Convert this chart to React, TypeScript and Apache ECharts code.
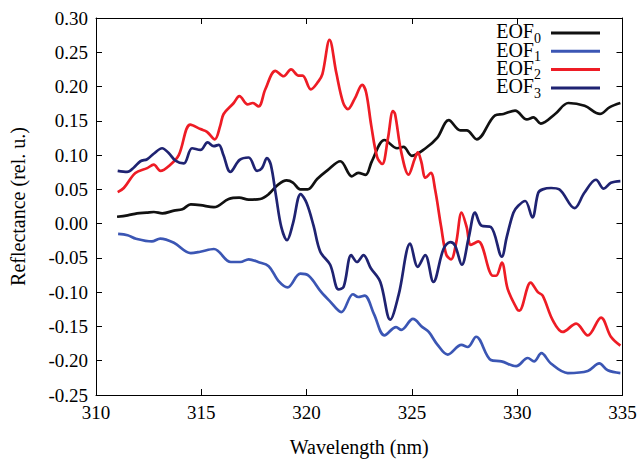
import React, { useEffect, useRef } from "react";
import * as echarts from "echarts";

const xTicks = [310, 315, 320, 325, 330, 335];
const seriesNames = ["EOF0", "EOF1", "EOF2", "EOF3"];
const seriesColors = ["#111111", "#3b56b4", "#ee1c25", "#1f2372"];

const eof0Wavelength = [311.0, 311.5, 311.95, 312.4, 312.75, 313.15, 313.7, 314.1, 314.5, 314.95, 315.6, 316.3, 316.8, 317.25, 317.8, 318.2, 318.65, 319.05, 319.35, 319.7, 320.05, 320.5, 321.0, 321.6, 322.15, 322.45, 322.8, 323.1, 323.7, 324.3, 324.6, 325.0, 325.65, 326.2, 326.75, 327.3, 327.6, 328.08, 328.95, 329.35, 329.9, 330.46, 330.77, 331.12, 331.8, 332.43, 333.2, 333.93, 334.4, 334.9];
const eof0Values = [0.010, 0.012, 0.015, 0.016, 0.017, 0.015, 0.019, 0.021, 0.028, 0.027, 0.024, 0.036, 0.038, 0.035, 0.036, 0.043, 0.057, 0.063, 0.060, 0.050, 0.050, 0.065, 0.078, 0.091, 0.069, 0.074, 0.071, 0.091, 0.122, 0.110, 0.112, 0.099, 0.110, 0.125, 0.151, 0.136, 0.136, 0.123, 0.158, 0.160, 0.165, 0.152, 0.155, 0.146, 0.160, 0.176, 0.172, 0.160, 0.170, 0.176];

const eof1Wavelength = [311.05, 311.5, 311.9, 312.65, 313.05, 313.7, 314.5, 314.95, 315.6, 316.4, 316.85, 317.25, 317.7, 318.2, 318.65, 319.1, 319.7, 320.1, 320.7, 321.1, 321.65, 322.2, 322.45, 322.75, 323.2, 323.7, 324.25, 324.5, 325.05, 325.5, 325.8, 326.2, 326.7, 327.35, 327.65, 328.05, 328.75, 329.25, 329.95, 330.5, 330.8, 331.15, 331.6, 332.4, 333.35, 333.9, 334.3, 334.9];
const eof1Values = [-0.015, -0.017, -0.022, -0.026, -0.022, -0.028, -0.043, -0.041, -0.037, -0.056, -0.056, -0.052, -0.056, -0.062, -0.083, -0.093, -0.073, -0.076, -0.100, -0.113, -0.129, -0.103, -0.107, -0.105, -0.132, -0.163, -0.151, -0.155, -0.139, -0.151, -0.158, -0.176, -0.191, -0.177, -0.180, -0.165, -0.199, -0.201, -0.208, -0.196, -0.201, -0.189, -0.204, -0.218, -0.215, -0.204, -0.214, -0.218];

const eof2Wavelength = [311.03, 311.32, 311.87, 312.43, 312.74, 313.06, 313.53, 313.93, 314.48, 314.96, 315.27, 315.64, 315.9, 316.06, 316.54, 316.81, 317.2, 317.44, 317.72, 318.04, 318.52, 318.91, 319.26, 319.62, 319.81, 320.2, 320.57, 320.75, 321.09, 321.41, 321.73, 321.96, 322.28, 322.64, 322.83, 323.07, 323.35, 323.59, 323.86, 324.1, 324.2, 324.49, 324.84, 325.14, 325.28, 325.44, 325.65, 325.9, 326.1, 326.39, 326.63, 326.86, 327.1, 327.36, 327.6, 327.8, 328.15, 328.85, 329.0, 329.27, 329.55, 330.0, 330.1, 330.64, 330.98, 331.21, 331.69, 332.16, 332.8, 333.35, 333.98, 334.45, 334.9];
const eof2Values = [0.046, 0.052, 0.074, 0.081, 0.086, 0.077, 0.086, 0.100, 0.1445, 0.138, 0.134, 0.123, 0.143, 0.160, 0.176, 0.186, 0.174, 0.176, 0.171, 0.196, 0.223, 0.215, 0.225, 0.216, 0.216, 0.196, 0.208, 0.218, 0.268, 0.220, 0.177, 0.167, 0.182, 0.2025, 0.191, 0.143, 0.097, 0.087, 0.124, 0.164, 0.160, 0.105, 0.0715, 0.095, 0.104, 0.091, 0.067, 0.074, 0.050, -0.005, -0.045, -0.052, -0.028, 0.016, -0.005, -0.031, -0.026, -0.076, -0.076, -0.057, -0.0955, -0.125, -0.127, -0.086, -0.100, -0.105, -0.141, -0.158, -0.146, -0.163, -0.137, -0.165, -0.178];

const eof3Wavelength = [311.03, 311.48, 311.8, 312.11, 312.43, 312.74, 313.14, 313.45, 313.77, 314.17, 314.56, 314.96, 315.3, 315.59, 315.83, 316.05, 316.38, 316.82, 317.25, 317.65, 317.88, 318.12, 318.3, 318.55, 318.8, 319.07, 319.35, 319.72, 320.0, 320.33, 320.65, 321.12, 321.52, 321.76, 322.12, 322.39, 322.7, 323.05, 323.5, 323.97, 324.37, 324.92, 325.28, 325.63, 326.02, 326.5, 326.82, 327.05, 327.37, 327.7, 328.0, 328.3, 328.75, 329.27, 329.5, 329.82, 330.05, 330.38, 330.72, 331.0, 331.21, 331.61, 332.0, 332.72, 333.19, 333.74, 334.11, 334.45, 334.9];
const eof3Values = [0.077, 0.0755, 0.082, 0.091, 0.094, 0.102, 0.110, 0.103, 0.092, 0.088, 0.110, 0.1075, 0.1185, 0.113, 0.115, 0.100, 0.0755, 0.093, 0.0965, 0.077, 0.081, 0.0955, 0.086, 0.040, -0.005, -0.024, 0.000, 0.043, 0.030, -0.003, -0.041, -0.060, -0.096, -0.092, -0.046, -0.056, -0.046, -0.065, -0.085, -0.140, -0.104, -0.029, -0.063, -0.046, -0.085, -0.037, -0.027, -0.032, -0.060, -0.020, 0.016, -0.003, -0.005, -0.048, -0.020, 0.016, 0.026, 0.033, 0.009, 0.045, 0.050, 0.052, 0.050, 0.0225, 0.045, 0.064, 0.051, 0.0595, 0.062];

const allWavelengths = [eof0Wavelength, eof1Wavelength, eof2Wavelength, eof3Wavelength];
const allValues = [eof0Values, eof1Values, eof2Values, eof3Values];

const FONT = "Liberation Serif";

export default function App() {
  const ref = useRef<HTMLDivElement>(null);
  useEffect(() => {
    if (!ref.current) return;
    const chart = echarts.init(ref.current, undefined, { renderer: "svg" });
    const mkAxisLine = () => ({ show: true, onZero: false, lineStyle: { color: "#000", width: 1 } });
    const mkTick = () => ({ show: true, inside: true, length: 6, lineStyle: { color: "#000", width: 1 } });
    const labelRich = { a: { fontFamily: FONT, fontSize: 19, color: "#000" } };
    const nameRich = { t: { fontFamily: FONT, fontSize: 20, color: "#000" } };

    const legendText = seriesNames.map((n) => "{b|EOF}{s|" + n.slice(3) + "}").join("\n");
    const legendGraphics: any[] = [
      {
        type: "text", silent: true, x: 541, y: 21.25,
        style: {
          text: legendText, align: "right", verticalAlign: "top", fill: "#000",
          fontFamily: FONT, fontSize: 20,
          rich: {
            b: { fontFamily: FONT, fontSize: 20, lineHeight: 18.3, verticalAlign: "top", fill: "#000" },
            s: { fontFamily: FONT, fontSize: 14, lineHeight: 18.3, verticalAlign: "top", padding: [10, 0, 0, 0], fill: "#000" },
          },
        },
      },
    ];
    seriesNames.forEach((name, i) => {
      const y = 33 + 18.3 * i;
      legendGraphics.push({
        type: "line", silent: true,
        shape: { x1: 551, y1: y, x2: 600, y2: y },
        style: { stroke: seriesColors[i], lineWidth: 3 },
      });
    });

    chart.setOption({
      animation: false,
      backgroundColor: "#fff",
      grid: { left: 95.5, right: 19.5, top: 18, bottom: 62 },
      xAxis: [
        {
          type: "value", min: xTicks[0], max: xTicks[xTicks.length - 1], interval: 5, position: "bottom",
          axisLine: mkAxisLine(), axisTick: mkTick(), splitLine: { show: false },
          axisLabel: {
            fontFamily: FONT, fontSize: 19, margin: 8, rich: labelRich,
            formatter: (v: number) => "{a|" + v + "}",
          },
          name: "{t|Wavelength (nm)}", nameLocation: "middle", nameGap: 42,
          nameTextStyle: { fontFamily: FONT, fontSize: 20, rich: nameRich },
        },
        {
          type: "value", min: xTicks[0], max: xTicks[xTicks.length - 1], interval: 5, position: "top",
          axisLine: mkAxisLine(), axisTick: mkTick(), splitLine: { show: false }, axisLabel: { show: false },
        },
      ],
      yAxis: [
        {
          type: "value", min: -0.25, max: 0.3, interval: 0.05, position: "left",
          axisLine: mkAxisLine(), axisTick: mkTick(), splitLine: { show: false },
          axisLabel: {
            fontFamily: FONT, fontSize: 19, margin: 8, rich: labelRich,
            formatter: (v: number) => "{a|" + (Math.abs(v) < 1e-9 ? 0 : v).toFixed(2) + "}",
          },
          name: "{t|Reflectance (rel. u.)}", nameLocation: "middle", nameGap: 68,
          nameTextStyle: { fontFamily: FONT, fontSize: 20, rich: nameRich },
        },
        {
          type: "value", min: -0.25, max: 0.3, interval: 0.05, position: "right",
          axisLine: mkAxisLine(), axisTick: mkTick(), splitLine: { show: false }, axisLabel: { show: false },
        },
      ],
      graphic: legendGraphics,
      series: seriesNames.map((name, i) => ({
        name, type: "line", showSymbol: false, smooth: 0.35,
        color: seriesColors[i],
        lineStyle: { color: seriesColors[i], width: 2.7 },
        data: allWavelengths[i].map((x, j) => [x, allValues[i][j]]),
      })),
    });
    return () => chart.dispose();
  }, []);
  return (
    <div ref={ref} style={{ position: "fixed", left: 0, top: 0, width: 642, height: 462 }} />
  );
}
